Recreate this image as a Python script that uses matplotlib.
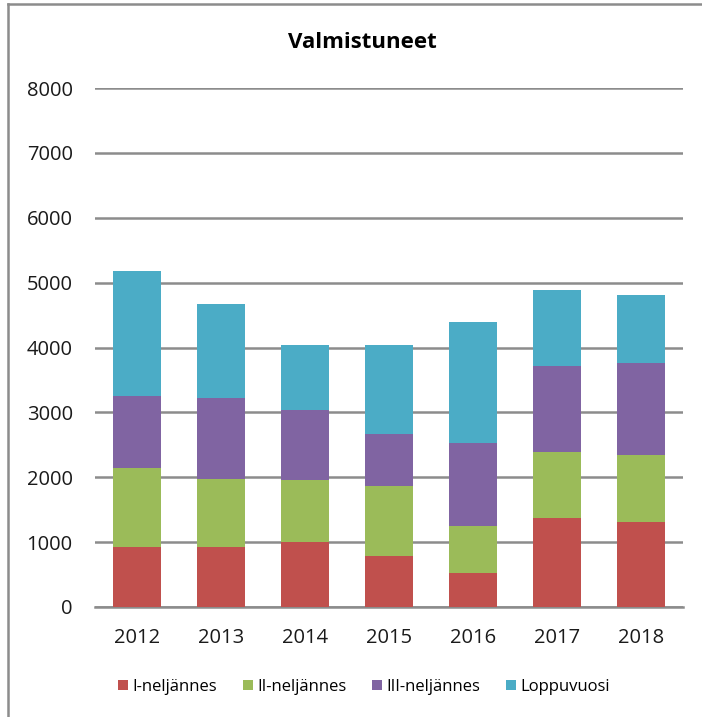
import matplotlib
matplotlib.use("Agg")
import matplotlib.pyplot as plt
from matplotlib.lines import Line2D
import numpy as np

years = ["2012", "2013", "2014", "2015", "2016", "2017", "2018"]
q1 = [920, 920, 1005, 790, 518, 1370, 1314]
q2 = [1217, 1050, 950, 1070, 736, 1014, 1036]
q3 = [1113, 1250, 1075, 812, 1279, 1325, 1411]
loppu = [1930, 1455, 1015, 1373, 1857, 1181, 1042]
series_names = ["I-neljännes", "II-neljännes", "III-neljännes", "Loppuvuosi"]
colors = ["#C0504D", "#9BBB59", "#8064A2", "#4BACC6"]

plt.rcParams['font.family'] = ['Open Sans', 'DejaVu Sans']

W, H = 702, 717
fig = plt.figure(figsize=(W / 100, H / 100), dpi=100)
ax = fig.add_axes([95 / W, 1 - 607 / H, 588 / W, (607 - 88) / H])

x = np.arange(len(years))
bottom = np.zeros(len(years))
for vals, name, c in zip([q1, q2, q3, loppu], series_names, colors):
    ax.bar(x, vals, width=0.57, bottom=bottom, color=c, label=name, zorder=3)
    bottom += np.array(vals)

ax.set_xlim(-0.5, len(years) - 0.5)
ax.set_ylim(0, 8000)
ax.set_yticks(range(0, 8001, 1000))
ax.set_xticks(x)
ax.set_xticklabels(years)
ax.yaxis.grid(True, color="#8C8C8C", linewidth=1.8, zorder=0)
ax.set_axisbelow(True)
for s in ["top", "right", "left"]:
    ax.spines[s].set_visible(False)
ax.spines["bottom"].set_color("#8C8C8C")
ax.spines["bottom"].set_linewidth(1.8)
ax.tick_params(axis="both", length=0, labelsize=14.5, colors="#1a1a1a")
ax.tick_params(axis="y", pad=16)
ax.tick_params(axis="x", pad=15)

fig.text(362 / W, 1 - 42 / H, "Valmistuneet", ha="center", va="center",
         fontsize=16, fontweight="bold")

handles, labels = ax.get_legend_handles_labels()
leg = fig.legend(handles, labels, loc="center", bbox_to_anchor=(364 / W, 1 - 687 / H),
                 ncol=4, frameon=False, fontsize=12, handlelength=0.6, handleheight=0.6,
                 handletextpad=0.3, columnspacing=1.5)

fig.add_artist(Line2D([8 / W, 1.0], [1 - 4 / H, 1 - 4 / H], transform=fig.transFigure,
                      color="#8C8C8C", linewidth=1.8))
fig.add_artist(Line2D([8 / W, 8 / W], [0.0, 1 - 4 / H], transform=fig.transFigure,
                      color="#8C8C8C", linewidth=1.8))

fig.savefig("out.png", dpi=100)
